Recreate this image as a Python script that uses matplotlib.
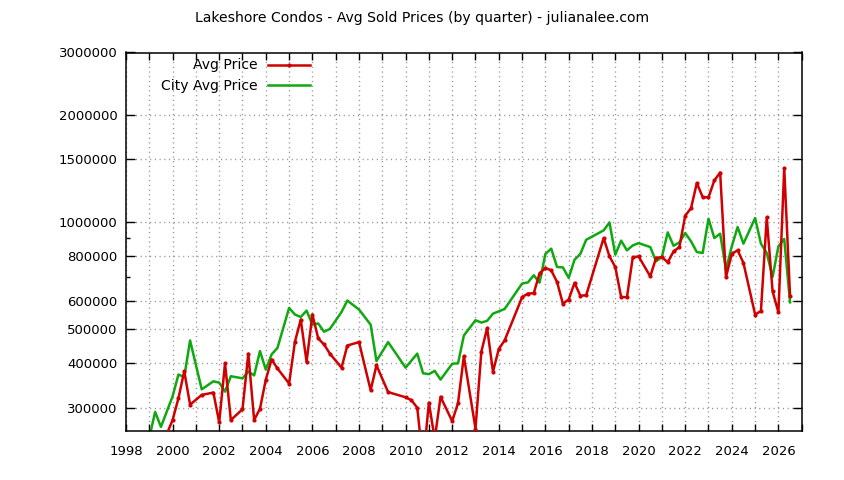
import matplotlib
matplotlib.use("Agg")
import matplotlib.pyplot as plt
from matplotlib.ticker import FixedLocator, FixedFormatter, NullFormatter

# ---- data ----
city_t = [1999.0, 1999.25, 1999.5, 2000.0, 2000.25, 2000.5, 2000.75, 2001.25, 2001.75,
          2002.0, 2002.25, 2002.5, 2003.0, 2003.25, 2003.5, 2003.75, 2004.0, 2004.25,
          2004.5, 2005.0, 2005.25, 2005.5, 2005.75, 2006.0, 2006.25, 2006.5, 2006.75,
          2007.25, 2007.5, 2008.0, 2008.5, 2008.75, 2009.25, 2010.0, 2010.5, 2010.75,
          2011.0, 2011.25, 2011.5, 2012.0, 2012.25, 2012.5, 2013.0, 2013.25, 2013.5,
          2013.75, 2014.25, 2015.0, 2015.25, 2015.5, 2015.75, 2016.0, 2016.25, 2016.5,
          2016.75, 2017.0, 2017.25, 2017.5, 2017.75, 2018.5, 2018.75, 2019.0, 2019.25,
          2019.5, 2019.75, 2020.0, 2020.5, 2020.75, 2021.0, 2021.25, 2021.5, 2021.75,
          2022.0, 2022.25, 2022.5, 2022.75, 2023.0, 2023.25, 2023.5, 2023.75, 2024.0,
          2024.25, 2024.5, 2025.0, 2025.25, 2025.5, 2025.75, 2026.0, 2026.25, 2026.5]
city_price = [247000, 292000, 265000, 323000, 372000, 366000, 464000, 338000, 356000,
              353000, 333000, 368000, 363000, 379000, 370000, 433000, 384000, 424000,
              442000, 573000, 549000, 540000, 563000, 514000, 518000, 491000, 500000,
              558000, 601000, 567000, 514000, 406000, 459000, 389000, 426000, 375000,
              373000, 381000, 360000, 399000, 400000, 479000, 529000, 521000, 527000,
              552000, 569000, 671000, 676000, 708000, 675000, 813000, 841000, 747000,
              745000, 696000, 783000, 813000, 891000, 947000, 997000, 809000, 886000,
              832000, 859000, 872000, 850000, 775000, 797000, 935000, 857000, 876000,
              931000, 882000, 823000, 818000, 1021000, 901000, 927000, 734000, 854000,
              968000, 869000, 1026000, 869000, 818000, 700000, 854000, 896000, 594000]

avg_t = [1999.75, 2000.0, 2000.25, 2000.5, 2000.75, 2001.25, 2001.75, 2002.0, 2002.25,
         2002.5, 2003.0, 2003.25, 2003.5, 2003.75, 2004.0, 2004.25, 2004.5, 2005.0,
         2005.25, 2005.5, 2005.75, 2006.0, 2006.25, 2006.5, 2006.75, 2007.25, 2007.5,
         2008.0, 2008.5, 2008.75, 2009.25, 2010.0, 2010.25, 2010.5, 2010.75, 2011.0,
         2011.25, 2011.5, 2012.0, 2012.25, 2012.5, 2013.0, 2013.25, 2013.5, 2013.75,
         2014.0, 2014.25, 2015.0, 2015.25, 2015.5, 2015.75, 2016.0, 2016.25, 2016.5,
         2016.75, 2017.0, 2017.25, 2017.5, 2017.75, 2018.5, 2018.75, 2019.0, 2019.25,
         2019.5, 2019.75, 2020.0, 2020.5, 2020.75, 2021.0, 2021.25, 2021.5, 2021.75,
         2022.0, 2022.25, 2022.5, 2022.75, 2023.0, 2023.25, 2023.5, 2023.75, 2024.0,
         2024.25, 2024.5, 2025.0, 2025.25, 2025.5, 2025.75, 2026.0, 2026.25, 2026.5]
avg_price = [253000, 277000, 319000, 380000, 306000, 326000, 331000, 273000, 400000,
             277000, 297000, 426000, 277000, 298000, 360000, 410000, 387000, 351000,
             460000, 531000, 404000, 549000, 470000, 452000, 426000, 389000, 449000,
             459000, 336000, 395000, 332000, 321000, 315000, 300000, 210000, 310000,
             245000, 322000, 275000, 309000, 419000, 262000, 431000, 503000, 379000,
             439000, 464000, 614000, 629000, 630000, 717000, 742000, 731000, 678000,
             589000, 605000, 674000, 620000, 622000, 901000, 800000, 747000, 615000,
             614000, 795000, 800000, 703000, 792000, 797000, 770000, 826000, 850000,
             1041000, 1094000, 1287000, 1175000, 1173000, 1309000, 1378000, 699000, 814000,
             832000, 767000, 549000, 561000, 1030000, 638000, 557000, 1418000, 618000]

y_ticks = [300000, 400000, 500000, 600000, 800000, 1000000, 1500000, 2000000, 3000000]
y_minor = [700000, 900000]
x_ticks = list(range(1998, 2028))
x_labels = [str(y) if y % 2 == 0 else "" for y in x_ticks]

title = "Lakeshore Condos - Avg Sold Prices (by quarter) - julianalee.com"

# ---- plot ----
plt.rcParams['font.family'] = ['DejaVu Sans']
FS = 9.5
FS_TXT = 10.1
fig = plt.figure(figsize=(8.44, 4.80), dpi=100)
ax = fig.add_axes([126/844, 1-431/480, (801.7-126)/844, (431-52.5)/480])

red = '#d00000'
green = '#10a810'
ax.plot(avg_t, avg_price, color=red, lw=1.8, marker='o', ms=3, mew=0,
        label='Avg Price', zorder=3)
ax.plot(city_t, city_price, color=green, lw=1.8, label='City Avg Price', zorder=2)

ax.set_yscale('log')
ax.set_ylim(258000, 3000000)
ax.set_xlim(1998, 2027)

ax.yaxis.set_major_locator(FixedLocator(y_ticks))
ax.yaxis.set_major_formatter(FixedFormatter([str(v) for v in y_ticks]))
ax.yaxis.set_minor_locator(FixedLocator(y_minor))
ax.yaxis.set_minor_formatter(NullFormatter())
ax.xaxis.set_major_locator(FixedLocator(x_ticks))
ax.xaxis.set_major_formatter(FixedFormatter(x_labels))

ax.tick_params(axis='both', which='both', direction='in', top=True, right=True,
               labelsize=FS, colors='black')
ax.tick_params(axis='y', which='major', length=6.5, width=1, pad=6)
ax.tick_params(axis='y', which='minor', length=3, width=1)
ax.tick_params(axis='x', which='major', length=5, width=1, pad=10)

ax.grid(True, which='major', color='#909090', linestyle=(0, (0.8, 2.6)), linewidth=1)
ax.set_axisbelow(True)
for s in ax.spines.values():
    s.set_linewidth(1.1)
    s.set_color('black')

leg = ax.legend(loc='upper right', bbox_to_anchor=(310/844, 1-58.5/480),
                bbox_transform=fig.transFigure, frameon=False, markerfirst=False,
                fontsize=FS_TXT, handlelength=3.0, handletextpad=0.72, labelspacing=0.49,
                borderpad=0, borderaxespad=0)

fig.text(0.5, 1-18/480, title, ha='center', va='center', fontsize=FS_TXT)

fig.savefig('out.png', dpi=100)
